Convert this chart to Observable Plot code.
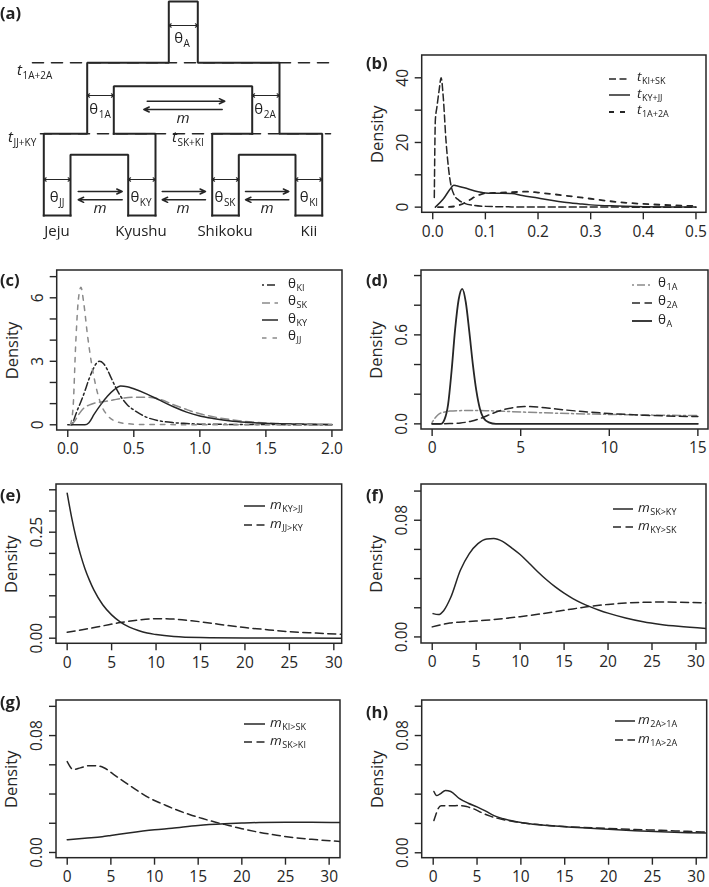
<!DOCTYPE html>
<html><head><meta charset="utf-8">
<script src="https://cdn.jsdelivr.net/npm/d3@7"></script>
<script src="https://cdn.jsdelivr.net/npm/@observablehq/plot@0.6"></script>
<style>
html,body{margin:0;padding:0;background:#fff;overflow:hidden}
#fig{position:relative;width:709px;height:887px;font-family:"Open Sans",sans-serif;color:#222}
.abs{position:absolute;white-space:nowrap;line-height:1;will-change:transform}
.sub{font-size:10px;position:relative;top:3.5px;margin-left:0.5px}
.lbl{font-size:15px}
.lg{font-size:13.5px}
.lg .sub{font-size:9px;top:2.5px}
.plab{font-size:16.5px;font-weight:bold}
.c{transform:translate(-50%,-50%)}
.l{transform:translate(0,-50%)}
</style></head><body><div id="fig"></div>
<script>
// ---------------- data ----------------
// (b) divergence times
const tKISK = [[0.003,3],[0.005,27],[0.008,31],[0.012,36],[0.016,40],[0.02,34],[0.025,21],[0.03,12],[0.035,6.5],[0.04,4],[0.05,2.1],[0.06,1.2],[0.08,0.5],[0.1,0.25],[0.15,0.08],[0.2,0.03],[0.3,0.01],[0.5,0]];
const tKYJJ = [[0.005,0],[0.02,2.5],[0.035,6.0],[0.04,6.8],[0.045,6.6],[0.06,6.0],[0.08,5.0],[0.1,4.4],[0.12,4.3],[0.15,4.2],[0.17,3.6],[0.2,2.8],[0.225,2.1],[0.25,1.5],[0.28,1.0],[0.3,0.7],[0.35,0.35],[0.4,0.15],[0.45,0.07],[0.5,0.03]];
const t1A2A = [[0.01,0],[0.03,0.05],[0.04,0.2],[0.05,0.6],[0.06,1.3],[0.07,2.2],[0.08,3.2],[0.09,3.9],[0.1,4.3],[0.12,4.4],[0.15,4.6],[0.18,4.8],[0.2,4.5],[0.25,3.6],[0.3,2.6],[0.35,1.6],[0.4,1.0],[0.45,0.6],[0.5,0.35]];
// (c) population sizes
const thKI = [[0.03,0],[0.05,0.3],[0.07,0.65],[0.1,1.1],[0.13,1.6],[0.16,2.15],[0.19,2.6],[0.22,2.93],[0.24,3.0],[0.27,2.9],[0.3,2.6],[0.33,2.2],[0.36,1.8],[0.4,1.35],[0.45,0.95],[0.5,0.7],[0.55,0.5],[0.6,0.35],[0.7,0.18],[0.8,0.1],[0.9,0.06],[1.0,0.03],[1.2,0.02],[1.5,0.01],[2,0]];
const thSK = [[0.03,0],[0.06,0.25],[0.09,0.55],[0.12,0.78],[0.16,0.93],[0.2,1.02],[0.25,1.08],[0.3,1.12],[0.35,1.18],[0.4,1.24],[0.5,1.3],[0.6,1.3],[0.7,1.2],[0.8,0.95],[0.9,0.72],[1.0,0.52],[1.1,0.38],[1.25,0.23],[1.4,0.13],[1.6,0.06],[1.8,0.03],[2.0,0.01]];
const thKY = [[0,0],[0.13,0],[0.16,0.1],[0.2,0.5],[0.25,0.95],[0.3,1.35],[0.35,1.65],[0.4,1.83],[0.45,1.8],[0.5,1.7],[0.6,1.45],[0.7,1.15],[0.8,0.85],[0.9,0.6],[1.0,0.42],[1.1,0.3],[1.25,0.17],[1.4,0.1],[1.6,0.05],[1.8,0.02],[2.0,0.01]];
const thJJ = [[0.02,0],[0.04,0.8],[0.06,3.8],[0.08,5.9],[0.1,6.5],[0.12,5.8],[0.15,4.2],[0.18,2.9],[0.21,1.9],[0.25,1.0],[0.3,0.45],[0.35,0.2],[0.45,0.05],[0.6,0.01],[2.0,0]];
// (d) ancestral population sizes
const th1A = [[0,0.01],[0.2,0.045],[0.4,0.068],[0.7,0.08],[1.0,0.086],[2,0.09],[3,0.089],[4,0.085],[5,0.08],[7,0.072],[9,0.066],[11,0.062],[13,0.058],[15,0.056]];
const th2A = [[0,0],[1,0.002],[1.6,0.006],[2.2,0.018],[2.8,0.04],[3.4,0.07],[4,0.095],[4.6,0.11],[5.2,0.117],[6,0.113],[7,0.1],[8.5,0.083],[10,0.07],[12,0.058],[15,0.049]];
const thA = [[0,0],[0.5,0],[0.7,0.03],[0.9,0.13],[1.1,0.36],[1.3,0.64],[1.5,0.84],[1.7,0.91],[1.9,0.82],[2.1,0.62],[2.3,0.4],[2.5,0.22],[2.7,0.1],[2.9,0.04],[3.2,0.01],[3.6,0],[15,0]];
// (e) migration KY/JJ
const mKYJJ = [[0,0.342],[0.5,0.285],[1,0.237],[1.5,0.197],[2,0.164],[2.5,0.137],[3,0.114],[4,0.079],[5,0.055],[6,0.038],[7,0.026],[8,0.018],[9,0.012],[10,0.0085],[12,0.004],[15,0.0015],[20,0.0005],[31,0.0001]];
const mJJKY = [[0,0.014],[2,0.021],[4,0.029],[6,0.037],[8,0.043],[10,0.046],[12,0.045],[14,0.041],[16,0.036],[18,0.03],[20,0.025],[22,0.021],[24,0.017],[26,0.014],[28,0.012],[31,0.009]];
// (f) migration SK/KY
const mSKKY = [[0.1,0.016],[0.7,0.0153],[1.3,0.018],[2.1,0.027],[3.2,0.0457],[4.2,0.057],[5.2,0.064],[6.2,0.0672],[7,0.0675],[8,0.0655],[9,0.0612],[10,0.0565],[11,0.0507],[12,0.0447],[13,0.0392],[14,0.0343],[15,0.03],[16,0.0263],[17,0.0232],[18,0.0206],[19,0.0183],[20,0.0163],[22,0.013],[24,0.0104],[26,0.0086],[28,0.0073],[31.2,0.0058]];
const mKYSK = [[0,0.0069],[2,0.0095],[4,0.0105],[6,0.0114],[8,0.0125],[10,0.0139],[12,0.0155],[14,0.0173],[16,0.0192],[18,0.021],[20,0.0223],[22,0.0232],[24,0.0237],[26,0.0239],[28,0.0238],[31.2,0.0233]];
// (g) migration KI/SK
const mKISK = [[0,0.0087],[2,0.0098],[4,0.0108],[5,0.0116],[7,0.0133],[10,0.0155],[12,0.0166],[15,0.0185],[18,0.0196],[20,0.0201],[22,0.0205],[25,0.0207],[28,0.0207],[31.3,0.0205]];
const mSKKI = [[0,0.0622],[0.7,0.0568],[1.5,0.0579],[2.5,0.0594],[3.4,0.0593],[4.2,0.058],[5.3,0.0535],[6.5,0.0485],[8,0.0425],[9.5,0.037],[11,0.033],[12.5,0.0292],[14,0.026],[15.5,0.0232],[17,0.0207],[18.5,0.0185],[20,0.0163],[22,0.0138],[24,0.0118],[26,0.0102],[28,0.009],[31.3,0.0075]];
// (h) migration 2A/1A
const m2A1A = [[0.08,0.0418],[0.4,0.039],[0.8,0.0402],[1.4,0.0425],[2,0.0418],[3,0.037],[4,0.0338],[5,0.0313],[6,0.0284],[7,0.0252],[8,0.0232],[9.5,0.0212],[11,0.0198],[13,0.0186],[15,0.0178],[17,0.017],[20,0.016],[23,0.0151],[26,0.0143],[29,0.0137],[31.3,0.0134]];
const m1A2A = [[0.08,0.022],[0.3,0.026],[0.6,0.0305],[0.9,0.032],[2,0.032],[3,0.0322],[3.8,0.0315],[4.6,0.03],[5.5,0.0274],[6.5,0.025],[7.5,0.0233],[9,0.0215],[11,0.0198],[13,0.0187],[15,0.0179],[17,0.0173],[20,0.0166],[23,0.0159],[26,0.0153],[29,0.0146],[31.3,0.0141]];

// tick values and labels
const bXTicks = [0,0.1,0.2,0.3,0.4,0.5], bXLabels = ["0.0","0.1","0.2","0.3","0.4","0.5"];
const bYTicks = [0,10,20,30,40], bYLabVals = [0,20,40], bYLabels = ["0","20","40"];
const cXTicks = [0,0.5,1,1.5,2], cXLabels = ["0.0","0.5","1.0","1.5","2.0"];
const cYTicks = [0,1,2,3,4,5,6,7], cYLabVals = [0,3,6], cYLabels = ["0","3","6"];
const dXTicks = [0,5,10,15], dXLabels = ["0","5","10","15"];
const dYTicks = [0,0.2,0.4,0.6,0.8,1.0], dYLabVals = [0,0.6], dYLabels = ["0.0","0.6"];
const mXTicks = [0,5,10,15,20,25,30], mXLabels = ["0","5","10","15","20","25","30"];
const eYTicks = [0,0.05,0.1,0.15,0.2,0.25,0.3,0.35], eYLabVals = [0,0.25], eYLabels = ["0.00","0.25"];
const fYTicks = [0,0.02,0.04,0.06,0.08,0.1], fYLabVals = [0,0.08], fYLabels = ["0.00","0.08"];

// (a) schematic: walls of the population tree (schematic units)
const treeWalls = [
  [[43.3,215],[43.3,133.3],[86.7,133.3],[86.7,62.3],[168.3,62.3],[168.3,1],[197.3,1],[197.3,62.3],[279,62.3],[279,133.3],[321.7,133.3],[321.7,215]],
  [[113.3,133.3],[113.3,85.7],[251.7,85.7],[251.7,133.3]],
  [[155,215],[155,133.3],[113.3,133.3]],
  [[211.7,215],[211.7,133.3],[251.7,133.3]],
  [[70,215],[70,154.3],[127.7,154.3],[127.7,215]],
  [[238.3,215],[238.3,154.3],[295,154.3],[295,215]],
  [[43.3,215],[70,215]],[[127.7,215],[155,215]],[[211.7,215],[238.3,215]],[[295,215],[321.7,215]]
];
const timeLines = [[[32,62.3],[332,62.3]],[[40,133.3],[330,133.3]]];
const thetaArrows = [[168.3,197.3,25],[86.7,113.3,95],[251.7,279,95],[43.3,70,179],[127.7,155,179],[211.7,238.3,179],[295,321.7,179]];
const migArrows = [[146.7,224.3,100.7],[221.7,143.3,109],[77.7,121.7,191],[121.7,77.7,199.3],[161.7,205,191],[205,161.7,199.3],[245,288.3,191],[288.3,245,199.3]];
const popNames = ["Jeju","Kyushu","Shikoku","Kii"];

// ---------------- drawing ----------------
const fig = document.getElementById("fig");
const INK = "#262626", GRAY = "#8a8a8a";
function place(el, left, top){el.style.position="absolute";el.style.left=left+"px";el.style.top=top+"px";el.style.overflow="visible";fig.appendChild(el);}
function html(cls, left, top, inner){const d=document.createElement("div");d.className="abs "+cls;d.style.left=left+"px";d.style.top=top+"px";d.innerHTML=inner;fig.appendChild(d);}
const sub = s => `<span class="sub">${s}</span>`;

// Panel (a)
{
  const rows = (paths) => paths.flatMap((p,i)=>p.map(([x,y])=>({x,y,i})));
  // each double-headed theta arrow = two arrows from its midpoint outward
  const halfArrows = thetaArrows.flatMap(([a,b,y]) => [{x1:(a+b)/2, x2:a, y}, {x1:(a+b)/2, x2:b, y}]);
  const svg = Plot.plot({
    width:350, height:250, margin:0,
    x:{domain:[0,350], axis:null}, y:{domain:[0,250], reverse:true, axis:null},
    marks:[
      Plot.line(rows(timeLines), {x:"x", y:"y", z:"i", stroke:INK, strokeWidth:1.6, strokeDasharray:"11,8"}),
      Plot.line(rows(treeWalls), {x:"x", y:"y", z:"i", stroke:INK, strokeWidth:2, strokeLinejoin:"miter", strokeLinecap:"square"}),
      Plot.arrow(halfArrows, {x1:"x1", x2:"x2", y1:"y", y2:"y", stroke:INK, strokeWidth:1.1, headLength:4, headAngle:70}),
      Plot.arrow(migArrows, {x1:d=>d[0], x2:d=>d[1], y1:d=>d[2], y2:d=>d[2], stroke:INK, strokeWidth:1.5, headLength:6, headAngle:50})
    ]
  });
  place(svg, 0, 0);
  const th = (s) => `θ${sub(s)}`;
  html("lbl c", 182, 37, th("A"));
  html("lbl c", 100, 108, th("1A"));
  html("lbl c", 265, 108, th("2A"));
  html("lbl c", 183, 117, "<i>m</i>");
  [["JJ",57],["KY",141],["SK",225],["KI",309]].forEach(([s,x])=>html("lbl c", x, 196, th(s)));
  [100,183,267].forEach(x=>html("lbl c", x, 207, "<i>m</i>"));
  [57,141,225,309].forEach((x,i)=>html("lbl c", x, 230, popNames[i]));
  html("lbl l", 17, 69, `<i>t</i>${sub("1A+2A")}`);
  html("lbl l", 8, 136, `<i>t</i>${sub("JJ+KY")}`);
  html("lbl l", 172, 136, `<i>t</i>${sub("SK+KI")}`);
}

function panel(cfg){
  const [L,T,R,B] = cfg.frame;
  const mL = L - cfg.left, mT = 6, mR = 1, mB = 29;
  const svg = Plot.plot({
    width: mL + (R-L) + mR, height: mT + (B-T) + mB,
    marginLeft:mL, marginTop:mT, marginRight:mR, marginBottom:mB,
    style:{fontFamily:"'Open Sans',sans-serif", fontSize:"16px", color:INK, overflow:"visible"},
    x:{domain:cfg.xDomain}, y:{domain:cfg.yDomain},
    marks:[
      ...cfg.series.map(s => Plot.line(s.data, {x:d=>d[0], y:d=>d[1], stroke:s.stroke, strokeWidth:s.width||1.5, strokeDasharray:s.dash, curve:"monotone-x", clip:true})),
      Plot.axisX(cfg.xTicks, {tickSize:7, tickFormat:()=>"", label:null, strokeWidth:1.4}),
      Plot.axisY(cfg.yTicks, {tickSize:7, tickFormat:()=>"", label:null, strokeWidth:1.4}),
      Plot.text(cfg.xTicks, {x:d=>d, text:(d,i)=>cfg.xLabels[i], frameAnchor:"bottom", dy:19, lineAnchor:"middle", textAnchor:"middle", fontSize:15.5, fill:INK}),
      Plot.text(cfg.yLabVals, {y:d=>d, text:(d,i)=>cfg.yLabels[i], frameAnchor:"left", dx:-19.5, rotate:-90, textAnchor:"middle", lineAnchor:"middle", fontSize:15.5, fill:INK}),
      Plot.text(["Density"], {frameAnchor:"left", dx:-44.5, rotate:-90, textAnchor:"middle", lineAnchor:"middle", fontSize:16.5, fill:INK})
    ]
  });
  // plot box
  d3.select(svg).append("rect").attr("x",mL).attr("y",mT).attr("width",R-L).attr("height",B-T)
    .attr("fill","none").attr("stroke",INK).attr("stroke-width",1.5);
  place(svg, cfg.left, T - mT);
  html("plab l", cfg.tag[1], cfg.tag[2], cfg.tag[0]);
  const lg = cfg.legend;
  cfg.series.forEach((s,i)=>{
    const y = lg.rows[i], w = lg.x2 - lg.x1;
    const ln = document.createElementNS("http://www.w3.org/2000/svg","svg");
    ln.setAttribute("width", w); ln.setAttribute("height", 10);
    ln.innerHTML = `<line x1="0" y1="5" x2="${w}" y2="5" stroke="${s.stroke}" stroke-width="${s.width||1.5}" ${s.dash?`stroke-dasharray="${s.dash}"`:""}/>`;
    place(ln, lg.x1, y - 5);
    html("lg l", lg.tx, y - 1.5, s.label);
  });
}

const LONG = "8,4.5", SHORT = "4.5,6", DOTDASH = "2,3,8,3";
const tl = s => `<i>t</i>${sub(s)}`, ml = s => `<i>m</i>${sub(s)}`, thl = s => `θ${sub(s)}`;

panel({frame:[421.7,55,706,212.3], left:355, xDomain:[-0.02,0.52], yDomain:[-1.75,46.9],
  xTicks:bXTicks, xLabels:bXLabels, yTicks:bYTicks, yLabVals:bYLabVals, yLabels:bYLabels, tag:["(b)",366,63],
  series:[{data:tKISK, stroke:INK, dash:"7,3.5", label:tl("KI+SK")},{data:tKYJJ, stroke:INK, label:tl("KY+JJ")},{data:t1A2A, stroke:INK, dash:"5,6", width:1.8, label:tl("1A+2A")}],
  legend:{x1:609, x2:630, tx:637, rows:[78.5,95,111.5]}});

panel({frame:[56.7,270,342,430], left:0, xDomain:[-0.08,2.08], yDomain:[-0.27,7.29],
  xTicks:cXTicks, xLabels:cXLabels, yTicks:cYTicks, yLabVals:cYLabVals, yLabels:cYLabels, tag:["(c)",0,280],
  series:[{data:thKI, stroke:INK, dash:DOTDASH, label:thl("KI")},{data:thSK, stroke:GRAY, dash:LONG, label:thl("SK")},{data:thKY, stroke:INK, label:thl("KY")},{data:thJJ, stroke:GRAY, dash:SHORT, label:thl("JJ")}],
  legend:{x1:262, x2:278, tx:288, rows:[285,302.5,320,337.5]}});

panel({frame:[421,270,708,429], left:355, xDomain:[-0.6,15.6], yDomain:[-0.038,1.034],
  xTicks:dXTicks, xLabels:dXLabels, yTicks:dYTicks, yLabVals:dYLabVals, yLabels:dYLabels, tag:["(d)",366,280],
  series:[{data:th1A, stroke:GRAY, dash:DOTDASH, label:thl("1A")},{data:th2A, stroke:INK, dash:LONG, label:thl("2A")},{data:thA, stroke:INK, width:1.8, label:thl("A")}],
  legend:{x1:632, x2:652, tx:658, rows:[284.5,302.8,321]}});

panel({frame:[56,484,341.7,643.3], left:0, xDomain:[-1.2,30.94], yDomain:[-0.0132,0.3625],
  xTicks:mXTicks, xLabels:mXLabels, yTicks:eYTicks, yLabVals:eYLabVals, yLabels:eYLabels, tag:["(e)",0,495],
  series:[{data:mKYJJ, stroke:INK, label:ml("KY&gt;JJ")},{data:mJJKY, stroke:INK, dash:LONG, label:ml("JJ&gt;KY")}],
  legend:{x1:244, x2:265, tx:269.5, rows:[506,525]}});

panel({frame:[421,484.3,706,643.3], left:355, xDomain:[-1.22,31.2], yDomain:[-0.0045,0.1045],
  xTicks:mXTicks, xLabels:mXLabels, yTicks:fYTicks, yLabVals:fYLabVals, yLabels:fYLabels, tag:["(f)",366,495],
  series:[{data:mSKKY, stroke:INK, label:ml("SK&gt;KY")},{data:mKYSK, stroke:INK, dash:LONG, label:ml("KY&gt;SK")}],
  legend:{x1:613, x2:633, tx:638, rows:[509.3,527.3]}});

panel({frame:[56,700,340,857.7], left:0, xDomain:[-1.227,31.3], yDomain:[-0.0039,0.104],
  xTicks:mXTicks, xLabels:mXLabels, yTicks:fYTicks, yLabVals:fYLabVals, yLabels:fYLabels, tag:["(g)",0,702],
  series:[{data:mKISK, stroke:INK, label:ml("KI&gt;SK")},{data:mSKKI, stroke:INK, dash:LONG, label:ml("SK&gt;KI")}],
  legend:{x1:244, x2:265, tx:269.5, rows:[724.3,742.3]}});

panel({frame:[421.7,700,706.7,857.7], left:355, xDomain:[-1.255,31.25], yDomain:[-0.0037,0.1039],
  xTicks:mXTicks, xLabels:mXLabels, yTicks:fYTicks, yLabVals:fYLabVals, yLabels:fYLabels, tag:["(h)",366,712],
  series:[{data:m2A1A, stroke:INK, label:ml("2A&gt;1A")},{data:m1A2A, stroke:INK, dash:LONG, label:ml("1A&gt;2A")}],
  legend:{x1:615, x2:635, tx:638, rows:[721,740]}});

html("plab l", 0, 13, "(a)");
</script></body></html>
